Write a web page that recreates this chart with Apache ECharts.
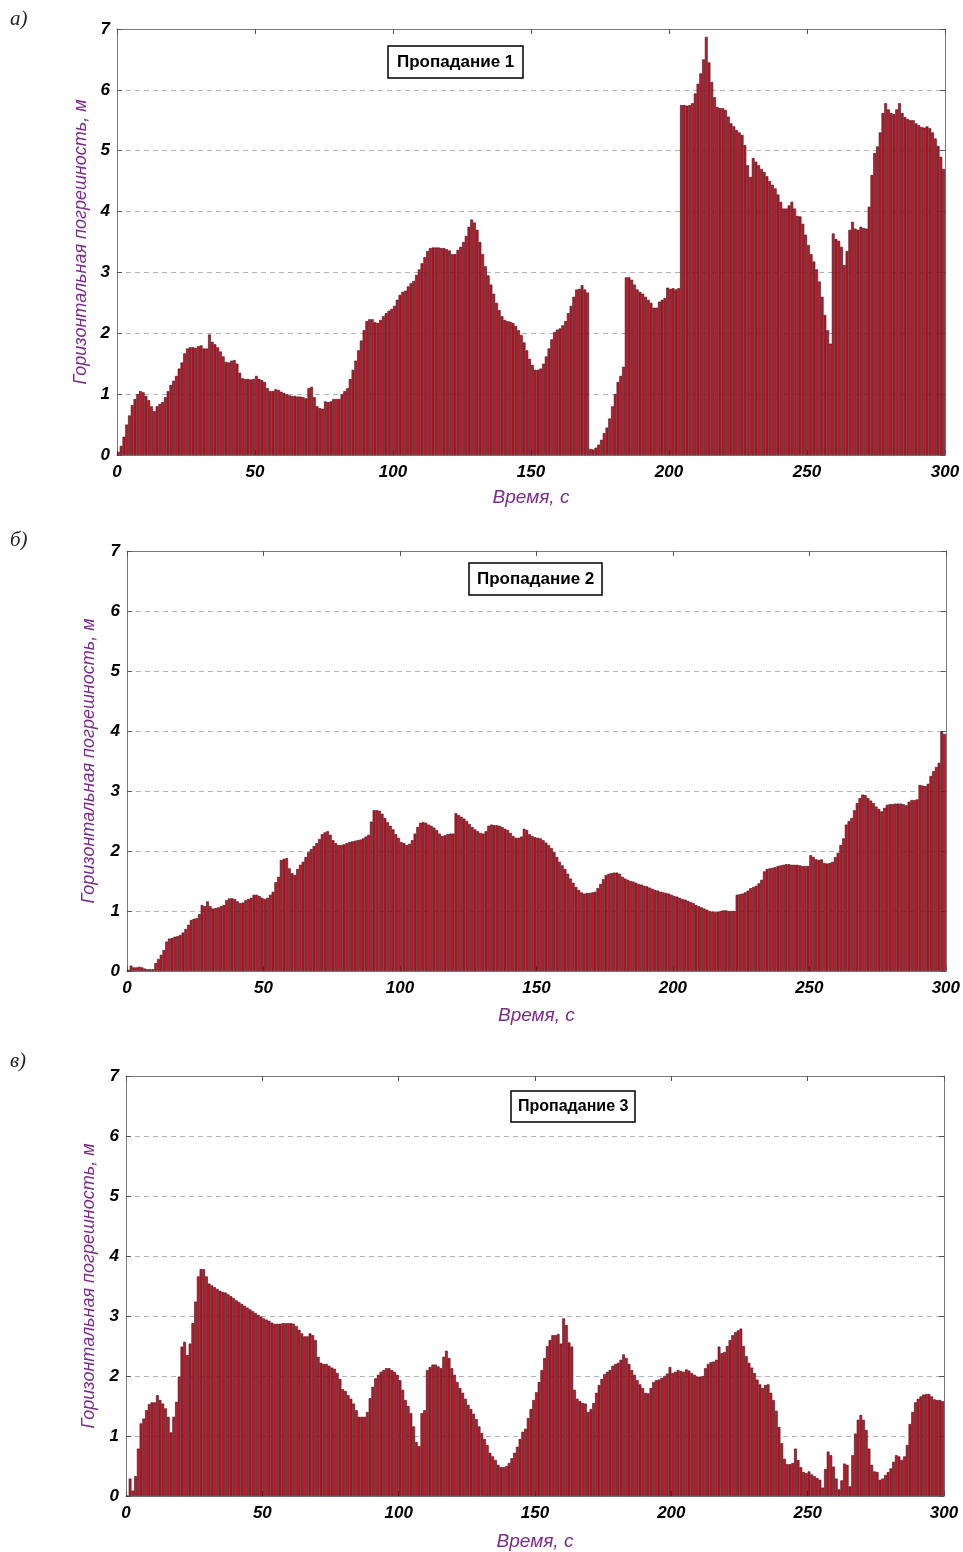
<!DOCTYPE html>
<html>
<head>
<meta charset="utf-8">
<title>Горизонтальная погрешность</title>
<script src="https://cdn.jsdelivr.net/npm/echarts@6/dist/echarts.min.js"></script>
<style>
  html, body { margin: 0; padding: 0; background: #fff; }
  #chart { width: 963px; height: 1552px; }
</style>
</head>
<body>
<div id="chart"></div>
<script>
// Horizontal position error per second, three signal-loss scenarios (0..299 s)
const lossA = [
  0.05,0.15,0.3,0.5,0.65,0.82,0.92,1.0,1.05,1.03,
  0.97,0.9,0.8,0.72,0.8,0.84,0.87,0.95,1.05,1.15,
  1.22,1.3,1.42,1.52,1.67,1.75,1.77,1.77,1.76,1.79,
  1.8,1.75,1.75,1.98,1.86,1.82,1.77,1.7,1.62,1.53,
  1.52,1.55,1.56,1.5,1.35,1.26,1.25,1.25,1.24,1.25,
  1.3,1.25,1.23,1.2,1.1,1.05,1.05,1.08,1.07,1.04,
  1.02,1.0,0.98,0.97,0.97,0.96,0.96,0.95,0.93,1.1,
  1.12,0.95,0.8,0.77,0.76,0.88,0.87,0.88,0.92,0.92,
  0.92,1.0,1.05,1.1,1.25,1.4,1.55,1.72,1.88,2.05,
  2.2,2.23,2.23,2.18,2.17,2.22,2.28,2.33,2.37,2.4,
  2.45,2.55,2.63,2.68,2.7,2.77,2.82,2.86,2.96,3.05,
  3.15,3.25,3.35,3.4,3.41,3.41,3.41,3.4,3.4,3.38,
  3.36,3.3,3.3,3.37,3.42,3.5,3.6,3.75,3.87,3.82,
  3.7,3.5,3.3,3.1,2.95,2.8,2.65,2.5,2.38,2.28,
  2.22,2.2,2.19,2.17,2.12,2.05,1.97,1.85,1.72,1.58,
  1.48,1.4,1.4,1.42,1.5,1.62,1.75,1.9,2.02,2.06,
  2.08,2.13,2.2,2.33,2.45,2.6,2.72,2.73,2.79,2.72,
  2.67,0.1,0.09,0.12,0.17,0.25,0.36,0.45,0.6,0.8,
  1.0,1.2,1.3,1.45,2.92,2.92,2.88,2.8,2.72,2.68,
  2.65,2.6,2.55,2.5,2.42,2.42,2.52,2.55,2.58,2.75,
  2.73,2.74,2.72,2.74,5.75,5.75,5.74,5.75,5.78,5.94,
  6.1,6.27,6.5,6.87,6.45,6.13,5.88,5.72,5.7,5.7,
  5.67,5.56,5.45,5.4,5.34,5.3,5.26,5.09,4.76,4.57,
  4.88,4.82,4.76,4.7,4.65,4.58,4.5,4.44,4.38,4.28,
  4.16,4.05,4.05,4.1,4.16,4.05,3.93,3.92,3.8,3.62,
  3.45,3.3,3.18,3.05,2.85,2.6,2.3,2.05,1.83,3.64,
  3.55,3.52,3.42,3.12,3.35,3.7,3.83,3.72,3.7,3.75,
  3.73,3.72,4.08,4.6,4.96,5.07,5.3,5.62,5.78,5.68,
  5.62,5.6,5.68,5.78,5.62,5.55,5.52,5.5,5.5,5.45,
  5.42,5.39,5.38,5.4,5.37,5.3,5.2,5.08,4.9,4.7
];

const lossB = [
  0.02,0.09,0.06,0.06,0.07,0.06,0.04,0.03,0.03,0.03,
  0.13,0.2,0.27,0.35,0.49,0.54,0.55,0.57,0.58,0.6,
  0.64,0.7,0.77,0.85,0.87,0.88,0.95,1.1,1.08,1.16,
  1.08,1.04,1.05,1.06,1.08,1.1,1.18,1.21,1.21,1.2,
  1.16,1.13,1.14,1.18,1.2,1.22,1.27,1.27,1.25,1.22,
  1.2,1.22,1.27,1.32,1.48,1.57,1.85,1.87,1.88,1.71,
  1.63,1.6,1.7,1.77,1.82,1.9,1.98,2.03,2.08,2.13,
  2.2,2.28,2.31,2.33,2.27,2.18,2.13,2.1,2.1,2.11,
  2.13,2.15,2.16,2.17,2.18,2.19,2.21,2.24,2.27,2.49,
  2.68,2.68,2.67,2.62,2.55,2.48,2.42,2.36,2.28,2.22,
  2.15,2.13,2.1,2.12,2.18,2.29,2.4,2.47,2.48,2.47,
  2.44,2.42,2.39,2.35,2.29,2.25,2.26,2.28,2.29,2.29,
  2.63,2.6,2.57,2.54,2.5,2.45,2.4,2.36,2.33,2.3,
  2.29,2.33,2.42,2.44,2.43,2.43,2.42,2.4,2.37,2.35,
  2.3,2.25,2.22,2.22,2.24,2.37,2.35,2.28,2.25,2.23,
  2.22,2.21,2.18,2.14,2.1,2.05,1.98,1.9,1.82,1.76,
  1.7,1.62,1.54,1.47,1.4,1.35,1.31,1.29,1.3,1.3,
  1.31,1.32,1.38,1.45,1.53,1.6,1.62,1.63,1.64,1.64,
  1.62,1.57,1.54,1.52,1.5,1.49,1.47,1.45,1.44,1.42,
  1.41,1.39,1.37,1.35,1.34,1.32,1.31,1.3,1.29,1.27,
  1.25,1.24,1.22,1.2,1.19,1.17,1.15,1.13,1.1,1.08,
  1.06,1.04,1.02,1.0,0.99,0.98,0.99,1.0,1.01,1.01,
  1.0,1.0,1.0,1.27,1.28,1.29,1.31,1.34,1.38,1.4,
  1.42,1.46,1.52,1.66,1.7,1.71,1.72,1.73,1.75,1.76,
  1.77,1.78,1.78,1.77,1.77,1.77,1.76,1.75,1.75,1.75,
  1.93,1.9,1.86,1.85,1.86,1.8,1.79,1.8,1.82,1.9,
  1.97,2.1,2.21,2.44,2.5,2.55,2.68,2.8,2.88,2.94,
  2.93,2.88,2.84,2.8,2.74,2.7,2.66,2.72,2.77,2.78,
  2.78,2.79,2.79,2.79,2.78,2.76,2.82,2.85,2.85,2.86,
  3.1,3.09,3.08,3.12,3.25,3.33,3.4,3.47,3.99,3.95
];

const lossC = [
  0,0.29,0.09,0.33,0.79,1.21,1.29,1.43,1.53,1.56,
  1.56,1.68,1.6,1.54,1.46,1.32,1.06,1.32,1.57,1.99,
  2.49,2.57,2.35,2.54,2.88,3.24,3.66,3.78,3.78,3.66,
  3.54,3.51,3.48,3.45,3.42,3.4,3.39,3.36,3.33,3.3,
  3.26,3.23,3.2,3.17,3.14,3.11,3.08,3.05,3.02,2.99,
  2.96,2.94,2.92,2.89,2.87,2.87,2.87,2.88,2.88,2.88,
  2.88,2.87,2.83,2.77,2.71,2.66,2.66,2.71,2.68,2.6,
  2.32,2.22,2.2,2.2,2.17,2.14,2.12,2.05,1.95,1.78,
  1.75,1.68,1.62,1.54,1.43,1.32,1.32,1.32,1.4,1.63,
  1.82,1.96,2.02,2.07,2.1,2.13,2.13,2.1,2.07,2.02,
  1.93,1.77,1.6,1.5,1.38,1.16,0.9,0.83,1.38,1.43,
  2.1,2.15,2.19,2.19,2.16,2.13,2.32,2.42,2.3,2.13,
  2.02,1.9,1.8,1.72,1.62,1.52,1.45,1.37,1.28,1.16,
  1.05,0.95,0.85,0.72,0.66,0.6,0.52,0.48,0.48,0.5,
  0.55,0.63,0.72,0.82,0.95,1.07,1.12,1.3,1.45,1.6,
  1.73,1.9,2.1,2.3,2.5,2.6,2.68,2.68,2.7,2.54,
  2.96,2.85,2.56,2.49,1.77,1.62,1.58,1.55,1.54,1.4,
  1.45,1.55,1.72,1.85,1.95,2.03,2.07,2.1,2.17,2.2,
  2.22,2.27,2.36,2.3,2.2,2.1,2.02,1.93,1.86,1.8,
  1.72,1.71,1.8,1.9,1.93,1.94,1.97,2.0,2.04,2.15,
  2.05,2.07,2.1,2.08,2.07,2.11,2.09,2.05,2.02,1.99,
  1.99,2.0,2.13,2.2,2.23,2.24,2.27,2.49,2.38,2.4,
  2.5,2.6,2.68,2.73,2.76,2.79,2.5,2.33,2.22,2.14,
  2.05,1.94,1.86,1.8,1.85,1.86,1.72,1.6,1.42,1.15,
  0.88,0.62,0.53,0.53,0.55,0.79,0.6,0.48,0.4,0.38,
  0.41,0.36,0.33,0.3,0.27,0.14,0.45,0.74,0.68,0.49,
  0.29,0.11,0.26,0.54,0.52,0.16,0.68,1.04,1.27,1.35,
  1.27,1.1,0.79,0.52,0.41,0.4,0.27,0.29,0.35,0.4,
  0.46,0.57,0.68,0.66,0.6,0.66,0.85,1.2,1.4,1.56,
  1.62,1.66,1.69,1.7,1.7,1.66,1.61,1.6,1.6,1.58
];

const panelTitles = ['Пропадание 1', 'Пропадание 2', 'Пропадание 3'];
const panelLetters = ['а)', 'б)', 'в)'];
const xName = 'Время, с';
const yName = 'Горизонтальная погрешность, м';
const xRange = [0, 300, 50];
const yRange = [0, 7, 1];

// Layout of the three stacked panels (pixels)
const panels = [
  { data: lossA, grid: { left: 117, top: 29, width: 828, height: 426 },
    yGap: 26, xGap: 33, box: { left: 388, top: 46, fs: 17, pad: [8, 9, 7, 9] }, letterTop: 9 },
  { data: lossB, grid: { left: 127, top: 551, width: 819, height: 420 },
    yGap: 29, xGap: 35, box: { left: 469, top: 563, fs: 17, pad: [8, 8, 7, 8] }, letterTop: 530 },
  { data: lossC, grid: { left: 126, top: 1076, width: 818, height: 420 },
    yGap: 28, xGap: 36, box: { left: 511, top: 1091, fs: 16, pad: [8, 7, 7, 7] }, letterTop: 1051 }
];

const tickFont = { fontFamily: 'Liberation Sans, Arial, sans-serif', fontWeight: 'bold',
  fontStyle: 'italic', fontSize: 17, color: '#000' };
const nameFont = { fontFamily: 'Liberation Sans, Arial, sans-serif', fontStyle: 'italic',
  fontSize: 19, color: '#7b2a8e' };
const frameLine = { show: true, onZero: false, lineStyle: { color: '#7a7a7a', width: 1 } };
const innerTick = { show: true, inside: true, length: 5, lineStyle: { color: '#555' } };

const grids = [], xAxes = [], yAxes = [], series = [], titles = [], graphics = [];

panels.forEach((p, g) => {
  grids.push(Object.assign({ containLabel: false }, p.grid));

  // bottom axis with labels
  xAxes.push({
    gridIndex: g, type: 'value', min: xRange[0], max: xRange[1], interval: xRange[2],
    position: 'bottom', axisLine: frameLine, axisTick: innerTick,
    axisLabel: Object.assign({ margin: 9 }, tickFont),
    splitLine: { show: false },
    name: xName, nameLocation: 'middle', nameGap: p.xGap, nameTextStyle: nameFont
  });
  // top frame edge with inward ticks
  xAxes.push({
    gridIndex: g, type: 'value', min: xRange[0], max: xRange[1], interval: xRange[2],
    position: 'top', axisLine: frameLine, axisTick: innerTick,
    axisLabel: { show: false }, splitLine: { show: false }
  });
  // left axis with labels and dashed grid
  yAxes.push({
    gridIndex: g, type: 'value', min: yRange[0], max: yRange[1], interval: yRange[2],
    position: 'left', axisLine: frameLine, axisTick: innerTick,
    axisLabel: Object.assign({ margin: 7 }, tickFont),
    splitLine: { show: true, lineStyle: { color: '#b4b4b4', type: [5, 4], width: 1 } },
    name: yName, nameLocation: 'middle', nameGap: p.yGap, nameRotate: 90,
    nameTextStyle: Object.assign({}, nameFont, { fontSize: 18 })
  });
  // right frame edge
  yAxes.push({
    gridIndex: g, type: 'value', min: yRange[0], max: yRange[1], interval: yRange[2],
    position: 'right', axisLine: frameLine, axisTick: innerTick,
    axisLabel: { show: false }, splitLine: { show: false }
  });

  series.push({
    type: 'bar',
    xAxisIndex: 2 * g, yAxisIndex: 2 * g,
    data: p.data.map((v, i) => [i + 0.5, v]),
    barCategoryGap: '0%',
    barWidth: '100%',
    itemStyle: { color: '#bb1d2c', borderColor: '#4c0a12', borderWidth: 0.6 },
    emphasis: { disabled: true },
    animation: false
  });

  titles.push({
    text: panelTitles[g], left: p.box.left, top: p.box.top,
    padding: p.box.pad,
    borderColor: '#000', borderWidth: 1.5, backgroundColor: '#fff',
    textStyle: { fontFamily: 'Liberation Sans, Arial, sans-serif', fontWeight: 'bold',
      fontSize: p.box.fs, color: '#000' }
  });

  graphics.push({
    type: 'text', left: 10, top: p.letterTop,
    style: { text: panelLetters[g], font: 'italic 21px "Liberation Serif", "Times New Roman", serif',
      fill: '#222' }
  });
});

const chart = echarts.init(document.getElementById('chart'), null, { renderer: 'canvas' });
chart.setOption({
  animation: false,
  backgroundColor: '#fff',
  title: titles,
  grid: grids,
  xAxis: xAxes,
  yAxis: yAxes,
  series: series,
  graphic: graphics
});
</script>
</body>
</html>
